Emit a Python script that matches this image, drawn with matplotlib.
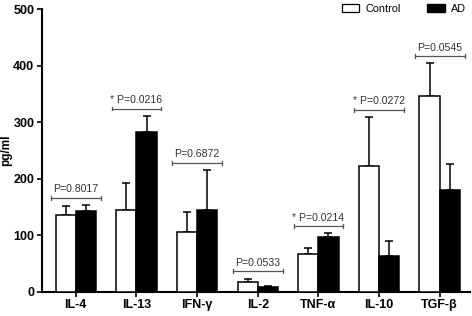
import numpy as np
import matplotlib
matplotlib.use('Agg')
import matplotlib.pyplot as plt
from matplotlib.patches import Patch

plt.rcParams['font.family'] = ['Liberation Sans', 'DejaVu Sans']

cytokines = ['IL-4', 'IL-13', 'IFN-γ', 'IL-2', 'TNF-α', 'IL-10', 'TGF-β']
control = [136, 145, 106, 18, 66, 222, 346]
control_err = [16, 47, 35, 5, 11, 87, 58]
ad = [142, 282, 144, 8, 97, 64, 180]
ad_err = [11, 29, 71, 2, 6, 25, 46]
pvals = ['0.8017', '0.0216', '0.6872', '0.0533', '0.0214', '0.0272', '0.0545']
significant = [False, True, False, False, True, True, False]

x = np.arange(len(cytokines))
w = 1 / 3

fig = plt.figure(figsize=(4.72, 3.16), dpi=100)
ax = fig.add_axes([42 / 472, 24.3 / 316, 428 / 472, 282.7 / 316])

ax.bar(x - w / 2, control, w, color='white', edgecolor='black', linewidth=1.1, zorder=3)
ax.bar(x + w / 2, ad, w, color='black', edgecolor='black', linewidth=1.1, zorder=3)
ax.errorbar(x - w / 2, control, yerr=[np.zeros(len(x)), control_err], fmt='none',
            ecolor='black', elinewidth=1.1, capsize=2.8, capthick=1.1, zorder=2)
ax.errorbar(x + w / 2, ad, yerr=[np.zeros(len(x)), ad_err], fmt='none',
            ecolor='black', elinewidth=1.1, capsize=2.8, capthick=1.1, zorder=2)

# p-value brackets
for i in range(len(x)):
    top = max(control[i] + control_err[i], ad[i] + ad_err[i])
    yb = top + 13
    x0, x1 = x[i] - 0.41, x[i] + 0.41
    ax.plot([x0, x1], [yb, yb], color='#555555', lw=0.9)
    ax.plot([x0, x0], [yb - 3.5, yb + 3.5], color='#555555', lw=0.9)
    ax.plot([x1, x1], [yb - 3.5, yb + 3.5], color='#555555', lw=0.9)
    label = ('* ' if significant[i] else '') + 'P=' + pvals[i]
    ax.text(x[i], yb + 6, label, ha='center', va='bottom', fontsize=7.6, color='#333333')

ax.set_xlim(-0.557, 6.5)
ax.set_ylim(0, 500)
ax.set_yticks([0, 100, 200, 300, 400, 500])
ax.set_xticks(x)
ax.set_xticklabels(cytokines)
for lab in ax.get_xticklabels() + ax.get_yticklabels():
    lab.set_fontweight('bold')
    lab.set_fontsize(9)
ax.set_ylabel('pg/ml', fontsize=8.5, fontweight='bold')
ax.yaxis.set_label_coords(-0.07, 0.5)

ax.spines['top'].set_visible(False)
ax.spines['right'].set_visible(False)
ax.spines['left'].set_linewidth(1.5)
ax.spines['bottom'].set_linewidth(1.5)
ax.tick_params(width=1.2, length=3.5, pad=2)

handles = [Patch(facecolor='white', edgecolor='black', linewidth=0.9, label='Control'),
           Patch(facecolor='black', edgecolor='black', label='AD')]
fig.legend(handles=handles, loc='upper right', bbox_to_anchor=(1.008, 1.018), ncol=2,
           frameon=False, fontsize=7.8, handlelength=1.6, handleheight=0.8,
           columnspacing=2.4, handletextpad=0.6)

fig.savefig('out.png', dpi=100)
